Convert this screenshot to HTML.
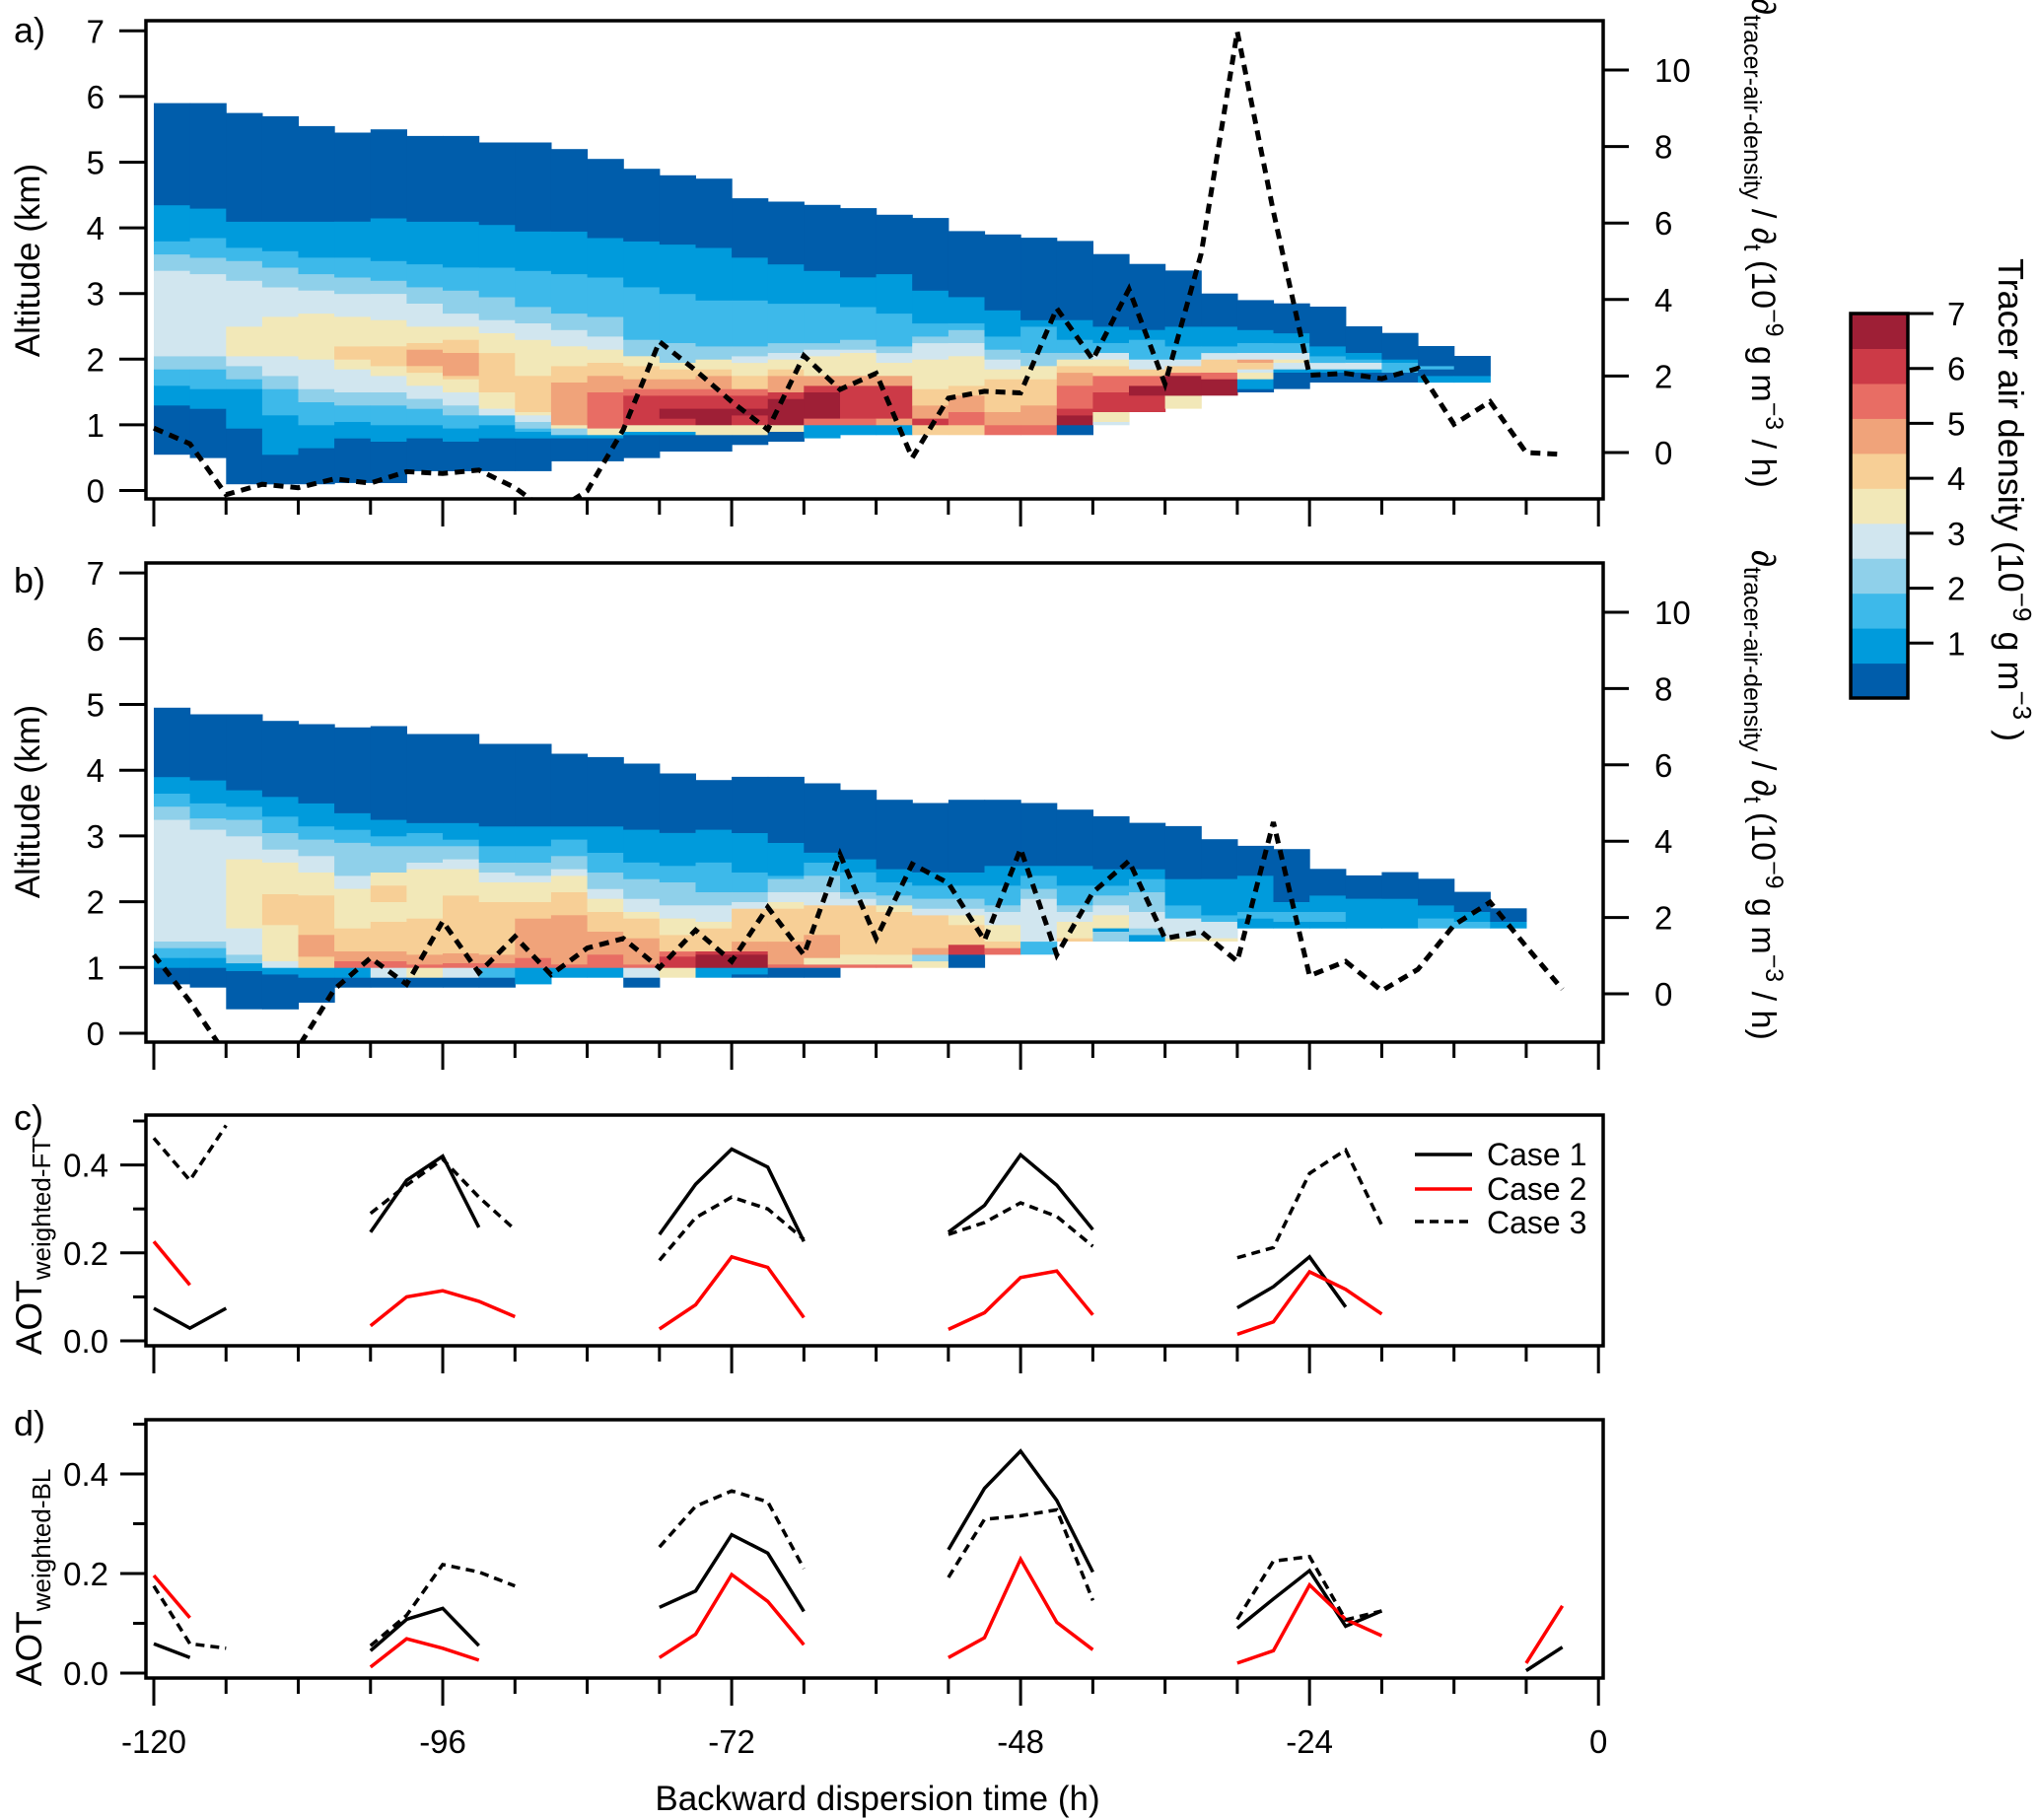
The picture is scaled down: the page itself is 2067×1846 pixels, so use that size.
<!DOCTYPE html>
<html><head><meta charset="utf-8">
<style>
html,body{margin:0;padding:0;background:#fff;}
svg{display:block;font-family:"Liberation Sans",Arial,sans-serif;}
</style></head>
<body>
<svg id="fig" width="2067" height="1846" viewBox="0 0 2067 1846" xmlns="http://www.w3.org/2000/svg">
<defs>
<clipPath id="clipA"><rect x="148" y="21" width="1478" height="485"/></clipPath>
<clipPath id="clipB"><rect x="148" y="571" width="1478" height="486"/></clipPath>
<clipPath id="clipC"><rect x="148" y="1131" width="1478" height="234"/></clipPath>
<clipPath id="clipD"><rect x="148" y="1440" width="1478" height="262"/></clipPath>
</defs>
<g id="heatA" clip-path="url(#clipA)"></g>
<g id="heatB" clip-path="url(#clipB)"></g>
<g id="lines"></g>
<g id="axes" stroke="#000" fill="none"></g>
<g id="labels" font-size="33" fill="#000"></g>

<text x="14" y="43" font-size="36">a)</text>
<text x="14" y="601" font-size="36">b)</text>
<text x="14" y="1146" font-size="36">c)</text>
<text x="14" y="1456" font-size="36">d)</text>

<text transform="translate(40,264) rotate(-90)" text-anchor="middle" font-size="35">Altitude (km)</text>
<text transform="translate(40,813) rotate(-90)" text-anchor="middle" font-size="35">Altitude (km)</text>
<text transform="translate(42,1264) rotate(-90)" text-anchor="middle" font-size="37">AOT<tspan font-size="26" dy="9">weighted-FT</tspan></text>
<text transform="translate(42,1600) rotate(-90)" text-anchor="middle" font-size="37">AOT<tspan font-size="26" dy="9">weighted-BL</tspan></text>

<text transform="translate(1777,-2) rotate(90)" font-size="34">∂<tspan font-size="25" dy="8">tracer-air-density</tspan><tspan dy="-8"> / ∂</tspan><tspan font-size="25" dy="8">t</tspan><tspan dy="-8"> (10</tspan><tspan font-size="25" dy="-14">−9</tspan><tspan dy="14"> g m</tspan><tspan font-size="25" dy="-14">−3</tspan><tspan dy="14"> / h)</tspan></text>
<text transform="translate(1777,558) rotate(90)" font-size="34">∂<tspan font-size="25" dy="8">tracer-air-density</tspan><tspan dy="-8"> / ∂</tspan><tspan font-size="25" dy="8">t</tspan><tspan dy="-8"> (10</tspan><tspan font-size="25" dy="-14">−9</tspan><tspan dy="14"> g m</tspan><tspan font-size="25" dy="-14">−3</tspan><tspan dy="14"> / h)</tspan></text>

<text transform="translate(2027,262) rotate(90)" font-size="36">Tracer air density (10<tspan font-size="26" dy="-15">−9</tspan><tspan dy="15"> g m</tspan><tspan font-size="26" dy="-15">−3</tspan><tspan dy="15"> )</tspan></text>

<text x="890" y="1836" text-anchor="middle" font-size="35">Backward dispersion time (h)</text>

<g>
<line x1="1435" y1="1171" x2="1493" y2="1171" stroke="#000" stroke-width="3.5"/>
<line x1="1435" y1="1206" x2="1493" y2="1206" stroke="#ff0000" stroke-width="3.5"/>
<line x1="1435" y1="1239" x2="1493" y2="1239" stroke="#000" stroke-width="3.5" stroke-dasharray="9,6"/>
<text x="1508" y="1182" font-size="32">Case 1</text>
<text x="1508" y="1217" font-size="32">Case 2</text>
<text x="1508" y="1251" font-size="32">Case 3</text>
</g>
<g id="cbar"></g>
</svg>
<script>
const N = null;
const levelColors = ["#005dab","#009bdc","#3db9ea","#8fd0ea","#d1e6ef","#f2e8b8","#f7cf96","#f0a37a","#e86d64","#cc3a47","#9e1f36"];
const timeStart = -120;
const colHours = 3;
// Panel a heatmap columns: [bottom, level, top, level, top, ...] (km)
const heatA = [
[0.55,0,1.3,1,1.6,2,1.85,3,2.05,4,3.35,3,3.6,2,3.8,1,4.35,0,5.9],
[0.5,0,1.25,1,1.55,2,1.85,3,2.05,4,3.3,3,3.55,2,3.85,1,4.3,0,5.9],
[0.1,0,0.95,1,1.55,2,1.7,3,1.9,4,2.05,5,2.5,4,3.2,3,3.5,2,3.7,1,4.1,0,5.75],
[0.1,0,0.55,1,1.15,2,1.55,3,1.75,4,2.05,5,2.65,4,3.1,3,3.4,2,3.65,1,4.1,0,5.7],
[0.1,0,0.65,1,1.0,2,1.35,3,1.55,4,2.0,5,2.7,4,3.05,3,3.3,2,3.55,1,4.1,0,5.55],
[0.12,0,0.8,1,1.05,2,1.3,3,1.5,4,1.85,5,2.0,6,2.2,5,2.65,4,3.0,3,3.25,2,3.55,1,4.1,0,5.45],
[0.12,0,0.75,1,1.0,2,1.3,3,1.5,4,1.75,5,1.9,6,2.2,5,2.6,4,3.0,3,3.2,2,3.5,1,4.15,0,5.5],
[0.3,0,0.8,1,1.0,2,1.25,3,1.4,4,1.6,5,1.8,6,1.9,7,2.15,6,2.25,5,2.5,4,2.85,3,3.1,2,3.45,1,4.1,0,5.4],
[0.3,0,0.75,1,0.95,2,1.15,3,1.3,4,1.5,5,1.7,6,1.75,7,2.1,6,2.3,5,2.5,4,2.7,3,3.05,2,3.4,1,4.1,0,5.4],
[0.3,0,0.8,1,1.0,2,1.15,4,1.25,5,1.5,6,2.1,5,2.4,4,2.6,3,2.95,2,3.4,1,4.05,0,5.3],
[0.3,0,0.8,1,0.9,2,0.95,3,1.05,4,1.15,5,1.2,6,1.75,5,2.3,4,2.55,3,2.8,2,3.35,1,3.95,0,5.3],
[0.45,0,0.8,1,0.85,3,0.95,5,1.0,7,1.65,6,1.9,5,2.2,4,2.45,3,2.7,2,3.3,1,3.95,0,5.2],
[0.45,0,0.8,1,0.85,5,0.95,8,1.5,7,1.75,6,1.95,5,2.15,4,2.35,3,2.65,2,3.25,1,3.85,0,5.05],
[0.5,0,0.85,1,0.9,5,1.0,9,1.45,8,1.55,7,1.7,6,1.9,5,2.05,3,2.3,2,3.1,1,3.8,0,4.9],
[0.6,0,0.85,1,0.9,5,1.0,9,1.1,10,1.25,9,1.45,8,1.55,7,1.7,6,1.85,5,1.95,3,2.25,2,3.0,1,3.75,0,4.8],
[0.6,0,0.85,5,1.0,10,1.25,9,1.45,8,1.55,7,1.75,6,1.85,5,2.0,3,2.2,2,2.9,1,3.7,0,4.75],
[0.7,0,0.85,5,1.0,9,1.15,10,1.25,9,1.45,8,1.55,6,1.75,5,1.95,4,2.05,3,2.2,2,2.9,1,3.55,0,4.45],
[0.75,0,0.9,5,1.0,10,1.4,9,1.5,7,1.75,6,1.85,5,2.0,4,2.1,3,2.25,2,2.85,1,3.45,0,4.4],
[0.8,1,1.0,8,1.1,10,1.5,9,1.6,7,1.75,5,2.05,4,2.15,3,2.25,2,2.85,1,3.35,0,4.35],
[0.85,1,1.0,8,1.1,9,1.6,7,1.75,5,2.1,4,2.15,3,2.3,2,2.8,1,3.25,0,4.3],
[0.85,1,1.0,7,1.1,9,1.6,7,1.75,5,1.95,4,2.1,3,2.2,2,2.7,1,3.3,0,4.2],
[0.85,6,1.0,9,1.1,7,1.3,6,1.55,5,2.0,4,2.25,3,2.35,2,2.55,1,3.05,0,4.15],
[0.85,6,1.0,8,1.2,7,1.45,6,1.6,5,2.05,4,2.25,3,2.45,2,2.55,1,2.95,0,3.95],
[0.85,8,1.0,7,1.2,6,1.7,5,1.85,4,2.0,3,2.15,2,2.35,1,2.75,0,3.9],
[0.85,8,1.0,7,1.3,6,1.7,5,1.9,3,2.1,2,2.5,1,2.6,0,3.85],
[0.85,0,1.0,10,1.15,9,1.25,8,1.6,7,1.8,6,1.9,5,2.0,3,2.1,2,2.3,1,2.6,0,3.8],
[1.0,4,1.05,5,1.2,9,1.5,8,1.75,6,1.9,5,2.0,4,2.1,2,2.25,1,2.5,0,3.6],
[1.2,9,1.45,10,1.6,8,1.75,6,1.85,4,2.0,2,2.3,1,2.45,0,3.45],
[1.25,5,1.45,10,1.75,8,1.8,6,1.9,4,2.0,2,2.2,1,2.5,0,3.35],
[1.45,10,1.7,8,1.8,6,2.0,4,2.1,2,2.2,1,2.5,0,3.0],
[1.5,0,1.55,1,1.7,5,1.8,4,1.85,6,1.95,7,2.0,4,2.1,2,2.25,1,2.45,0,2.9],
[1.55,0,1.8,1,1.85,4,1.95,5,2.0,4,2.1,2,2.25,1,2.4,0,2.85],
[1.65,0,1.8,1,1.85,4,1.95,2,2.05,1,2.2,0,2.8],
[1.65,0,1.8,1,1.85,4,1.95,2,2.0,1,2.1,0,2.5],
[1.65,0,1.8,2,1.95,1,2.0,0,2.4],
[1.65,1,1.75,0,1.85,2,1.9,0,2.2],
[1.65,1,1.75,0,2.05]
];
// Panel b heatmap columns
const heatB = [
[0.75,0,1.0,1,1.15,2,1.3,3,1.4,4,3.25,3,3.45,2,3.65,1,3.9,0,4.95],
[0.7,0,1.0,1,1.15,2,1.3,3,1.4,4,3.1,3,3.27,2,3.5,1,3.85,0,4.85],
[0.37,0,0.95,1,1.07,3,1.2,4,1.6,5,2.65,4,3.0,3,3.25,2,3.45,1,3.7,0,4.85],
[0.37,0,0.9,1,1.0,4,1.1,5,1.65,6,2.12,5,2.6,4,2.8,3,3.05,2,3.3,1,3.6,0,4.75],
[0.47,0,0.85,1,1.0,6,1.17,7,1.5,6,2.1,5,2.45,4,2.7,3,2.95,2,3.15,1,3.5,0,4.7],
[0.7,0,0.85,1,1.0,8,1.1,7,1.25,6,1.6,5,2.2,4,2.4,3,2.9,2,3.1,1,3.35,0,4.65],
[0.7,0,0.85,4,1.0,8,1.1,7,1.25,6,1.7,5,2.0,6,2.25,5,2.45,3,2.85,2,3.0,1,3.25,0,4.67],
[0.7,0,0.85,5,1.0,8,1.05,7,1.2,6,1.75,5,2.5,4,2.6,3,2.85,2,3.05,1,3.2,0,4.55],
[0.7,0,0.85,4,1.0,8,1.07,7,1.22,6,2.1,5,2.5,4,2.65,3,2.85,2,2.95,1,3.2,0,4.55],
[0.7,0,0.85,2,1.0,8,1.07,7,1.2,6,2.0,5,2.3,4,2.45,3,2.6,2,2.85,1,3.15,0,4.4],
[0.75,1,1.0,8,1.15,7,1.75,6,2.0,5,2.3,4,2.4,3,2.6,2,2.85,1,3.15,0,4.4],
[0.85,1,1.0,8,1.05,7,1.8,6,2.15,5,2.4,4,2.5,3,2.7,2,2.95,1,3.15,0,4.25],
[0.85,1,1.0,8,1.2,7,1.55,6,1.85,5,2.05,4,2.2,3,2.45,2,2.75,1,3.15,0,4.2],
[0.7,0,0.85,4,1.0,8,1.05,7,1.45,6,1.75,5,1.85,4,2.05,3,2.35,2,2.6,1,3.1,0,4.1],
[0.85,5,1.0,9,1.17,8,1.25,6,1.5,5,1.75,4,1.95,3,2.3,2,2.55,1,3.05,0,3.95],
[0.85,1,1.0,10,1.2,9,1.25,6,1.6,5,1.7,4,1.95,3,2.15,2,2.6,1,3.1,0,3.85],
[0.85,0,0.9,1,1.0,10,1.2,9,1.25,7,1.4,6,1.9,4,2.0,3,2.15,2,2.45,1,3.05,0,3.9],
[0.85,0,1.0,8,1.05,7,1.4,6,1.9,5,2.0,4,2.15,3,2.35,2,2.4,1,2.9,0,3.9],
[0.85,0,1.0,8,1.05,5,1.15,7,1.5,6,1.95,4,2.15,3,2.4,2,2.6,1,2.75,0,3.8],
[1.0,8,1.05,5,1.2,6,1.95,4,2.05,3,2.15,2,2.45,1,2.65,0,3.7],
[1.0,8,1.05,5,1.2,6,1.85,5,1.95,3,2.1,2,2.3,1,2.5,0,3.55],
[1.0,5,1.1,3,1.2,7,1.3,6,1.8,4,1.9,3,2.05,2,2.25,1,2.45,0,3.5],
[1.0,0,1.2,9,1.35,6,1.65,5,1.8,4,1.9,3,2.05,2,2.25,1,2.45,0,3.55],
[1.2,8,1.3,6,1.4,5,1.65,4,1.85,3,1.95,2,2.25,1,2.55,0,3.55],
[1.2,2,1.4,4,2.05,3,2.2,2,2.4,1,2.55,0,3.5],
[1.4,6,1.45,5,1.7,4,1.85,3,1.95,2,2.25,1,2.55,0,3.4],
[1.4,3,1.55,1,1.6,5,1.8,4,1.95,3,2.1,2,2.25,1,2.5,0,3.3],
[1.4,1,1.5,3,1.6,4,1.85,3,2.15,2,2.35,1,2.5,0,3.2],
[1.4,5,1.45,4,1.75,2,1.95,1,2.35,0,3.15],
[1.4,5,1.45,4,1.7,2,1.8,1,2.35,0,2.95],
[1.6,1,1.75,2,1.85,1,2.4,0,2.85],
[1.6,1,1.7,2,1.85,1,2.0,0,2.8],
[1.6,1,1.7,2,1.85,1,2.1,0,2.5],
[1.6,1,2.05,0,2.4],
[1.6,1,2.05,0,2.45],
[1.6,2,1.75,1,1.95,0,2.35],
[1.6,2,1.7,1,1.85,0,2.15],
[1.6,1,1.7,0,1.9]
];
// dTracer/dt series (every 3 h from -120)
const rateA = [0.64,0.23,-1.1,-0.83,-0.92,-0.69,-0.8,-0.5,-0.55,-0.46,-0.92,-1.6,-1.0,0.6,2.9,2.15,1.33,0.6,2.53,1.65,2.07,-0.14,1.42,1.6,1.56,3.77,2.43,4.27,1.79,5.2,11.0,6.3,2.02,2.07,1.93,2.2,0.74,1.33,0.0,-0.05];
const rateB = [1.02,-0.2,-1.6,-1.6,-1.4,0.12,0.94,0.25,1.9,0.55,1.5,0.5,1.2,1.45,0.68,1.67,0.85,2.27,1.02,3.65,1.45,3.4,2.9,1.4,3.8,1.02,2.66,3.48,1.45,1.63,0.85,4.5,0.47,0.85,0.08,0.64,1.8,2.4,1.24,0.12];
// AOT series (every 3 h from -120)
const cCase1 = [0.074,0.029,0.074,N,N,N,0.247,0.365,0.42,0.258,N,N,N,N,0.242,0.356,0.436,0.395,0.226,N,N,N,0.247,0.308,0.423,0.354,0.253,N,N,N,0.075,0.123,0.191,0.077,N,N,N,N,N,N];
const cCase2 = [0.226,0.127,N,N,N,N,0.034,0.1,0.114,0.09,0.055,N,N,N,0.027,0.082,0.191,0.167,0.053,N,N,N,0.026,0.064,0.144,0.159,0.059,N,N,N,0.015,0.043,0.157,0.117,0.061,N,N,N,N,N];
const cCase3 = [0.461,0.365,0.49,N,N,N,0.29,0.354,0.413,0.327,0.253,N,N,N,0.183,0.28,0.327,0.3,0.231,N,N,N,0.242,0.269,0.314,0.283,0.215,N,N,N,0.189,0.212,0.381,0.434,0.263,N,N,N,N,N];
const dCase1 = [0.059,0.031,N,N,N,N,0.045,0.108,0.13,0.055,N,N,N,N,0.132,0.165,0.278,0.241,0.124,N,N,N,0.248,0.371,0.446,0.347,0.203,N,N,N,0.09,0.149,0.206,0.094,0.125,N,N,N,0.005,0.052];
const dCase2 = [0.196,0.111,N,N,N,N,0.012,0.069,0.05,0.026,N,N,N,N,0.031,0.078,0.198,0.144,0.057,N,N,N,0.031,0.071,0.229,0.102,0.047,N,N,N,0.02,0.045,0.177,0.108,0.075,N,N,N,0.02,0.135];
const dCase3 = [0.175,0.059,0.05,N,N,N,0.055,0.116,0.218,0.203,0.175,N,N,N,0.253,0.335,0.366,0.344,0.21,N,N,N,0.192,0.309,0.316,0.328,0.146,N,N,N,0.108,0.225,0.234,0.107,0.125,N,N,N,N,N];
const xTickLabels = ["-120","-96","-72","-48","-24","0"];
const altTicks = [0,1,2,3,4,5,6,7];
const rateTicks = [0,2,4,6,8,10];
const aotTicks = ["0.0","0.2","0.4"];
const cbarTicks = [1,2,3,4,5,6,7];

const NS = "http://www.w3.org/2000/svg";
function mk(tag, attrs, parent){ const e=document.createElementNS(NS,tag); for(const k in attrs) e.setAttribute(k,attrs[k]); parent.appendChild(e); return e; }
const X = t => 156 + (t + 120) * 12.21;
const Ya = a => 497.5 - a * 66.6;
const Yb = a => 1048 - a * 66.7;
const Ra = v => 459 - v * 38.8;
const Rb = v => 1008 - v * 38.7;
const Yc = v => 1360 - v * 446;
const Yd = v => 1697 - v * 505;

function drawHeat(g, data, yf, panel){
  data.forEach((col, i) => {
    const x0 = X(timeStart + colHours * i), x1 = X(timeStart + colHours * (i + 1));
    let prev = col[0];
    for (let k = 1; k < col.length; k += 2){
      const lvl = col[k], top = col[k+1];
      const r = mk("rect", {x:x0.toFixed(1), y:yf(top).toFixed(1), width:(x1-x0+0.6).toFixed(1), height:(yf(prev)-yf(top)+0.4).toFixed(1), fill:levelColors[lvl]}, g);
      
      
      prev = top;
    }
  });
}
drawHeat(document.getElementById('heatA'), heatA, Ya, 'heatmap-a');
drawHeat(document.getElementById('heatB'), heatB, Yb, 'heatmap-b');

const lines = document.getElementById('lines');
function drawSeries(vals, yf, stroke, dash, clip, name, sw){
  let segs = [], cur = [];
  vals.forEach((v, i) => {
    if (v === null){ if (cur.length) segs.push(cur); cur = []; }
    else cur.push(X(timeStart + colHours * i).toFixed(1) + "," + yf(v).toFixed(1));
  });
  if (cur.length) segs.push(cur);
  segs.forEach(s => {
    const attrs = {points:s.join(" "), fill:"none", stroke:stroke, "stroke-width":sw || "3.5", "stroke-linejoin":"miter", "clip-path":"url(#"+clip+")"};
    if (dash) attrs["stroke-dasharray"] = dash;
    const p = mk("polyline", attrs, lines);
    
    
  });
}
drawSeries(rateA, Ra, "#000", "10,7", "clipA", "tracer-rate-line-a", "5");
drawSeries(rateB, Rb, "#000", "10,7", "clipB", "tracer-rate-line-b", "5");
drawSeries(cCase1, Yc, "#000", null, "clipC", "aot-ft-case1-line");
drawSeries(cCase2, Yc, "#ff0000", null, "clipC", "aot-ft-case2-line");
drawSeries(cCase3, Yc, "#000", "9,6", "clipC", "aot-ft-case3-line");
drawSeries(dCase1, Yd, "#000", null, "clipD", "aot-bl-case1-line");
drawSeries(dCase2, Yd, "#ff0000", null, "clipD", "aot-bl-case2-line");
drawSeries(dCase3, Yd, "#000", "9,6", "clipD", "aot-bl-case3-line");

const ax = document.getElementById('axes');
const lab = document.getElementById('labels');
function frame(y0, y1, name){
  const r = mk("rect", {x:148, y:y0, width:1478, height:y1-y0, "stroke-width":"3.5"}, ax);
  
  
}
frame(21, 506, 'panel-a-frame');
frame(571, 1057, 'panel-b-frame');
frame(1131, 1365, 'panel-c-frame');
frame(1440, 1702, 'panel-d-frame');
function xTicks(yb){
  for (let t = -120; t <= 0; t += 6){
    const major = (t % 24 === 0);
    const l = mk("line", {x1:X(t), x2:X(t), y1:yb, y2:yb + (major ? 28 : 16), "stroke-width":"3"}, ax);
    
    
  }
}
xTicks(506); xTicks(1057); xTicks(1365); xTicks(1702);
function txt(x, y, s, anchor, name){
  const e = mk("text", {x:x, y:y, "text-anchor":anchor}, lab);
  e.textContent = s;
  
  
}
[[Ya,Ra],[Yb,Rb]].forEach(([yf, rf], pi) => {
  altTicks.forEach(a => {
    const l = mk("line", {x1:121, x2:148, y1:yf(a), y2:yf(a), "stroke-width":"3"}, ax);
    
    
    txt(106, yf(a) + 12, String(a), "end", 'altitude-tick-label');
  });
  rateTicks.forEach(v => {
    const l = mk("line", {x1:1626, x2:1652, y1:rf(v), y2:rf(v), "stroke-width":"3"}, ax);
    
    
    txt(1678, rf(v) + 12, String(v), "start", 'rate-tick-label');
  });
});
[Yc, Yd].forEach(yf => {
  for (let k = 0; k <= 5; k++){
    const v = k / 10, major = (k % 2 === 0);
    const l = mk("line", {x1: major ? 122 : 135, x2:148, y1:yf(v), y2:yf(v), "stroke-width":"3"}, ax);
    
    
  }
  aotTicks.forEach(s => txt(110, yf(parseFloat(s)) + 12, s, "end", 'aot-tick-label'));
});
xTickLabels.forEach(s => txt(X(parseFloat(s)), 1778, s, "middle", 'x-tick-label'));

// colorbar
const cb = document.getElementById('cbar');
const cbTop = 318, cbBot = 708, cbMax = 7;
levelColors.forEach((c, i) => {
  const h = (cbBot - cbTop) / levelColors.length;
  const r = mk("rect", {x:1877, y:(cbBot - (i+1)*h).toFixed(1), width:58, height:(h+0.5).toFixed(1), fill:c}, cb);
  
  
});
mk("rect", {x:1877, y:cbTop, width:58, height:cbBot-cbTop, fill:"none", stroke:"#000", "stroke-width":"3.5"}, cb);
cbarTicks.forEach(v => {
  const y = cbBot - v * (cbBot - cbTop) / cbMax;
  const l = mk("line", {x1:1935, x2:1961, y1:y, y2:y, stroke:"#000", "stroke-width":"3"}, cb);
  
  
  const t = mk("text", {x:1975, y:y + 12, "font-size":"33"}, cb);
  t.textContent = String(v);
  
  
});
</script>
</body></html>
